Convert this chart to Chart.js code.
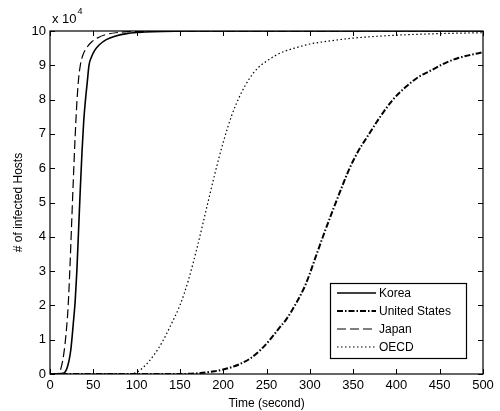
<!DOCTYPE html>
<html><head><meta charset="utf-8">
<script src="https://cdn.jsdelivr.net/npm/chart.js@4/dist/chart.umd.min.js"></script>
<style>html,body{margin:0;padding:0;background:#fff}#wrap{width:500px;height:411px}</style>
</head><body><div id="wrap"><canvas id="c" width="500" height="411"></canvas></div>
<script>
const seriesNames = ["Korea", "United States", "Japan", "OECD"];
const xTicks = [0, 50, 100, 150, 200, 250, 300, 350, 400, 450, 500];
const yTicks = [0, 1, 2, 3, 4, 5, 6, 7, 8, 9, 10];
// values in units of 10^4 hosts
const koreaT = [0, 15, 20, 24, 27, 29, 31, 33, 35, 37, 39, 41, 43, 45, 48, 52, 57, 65, 75, 90, 110, 130, 160, 500];
const koreaV = [0, 0.02, 0.2, 0.7, 1.5, 2.1, 3.0, 4.2, 5.4, 6.5, 7.4, 8.0, 8.5, 9.0, 9.25, 9.45, 9.6, 9.75, 9.85, 9.93, 9.97, 9.99, 10, 10];
const usT = [0, 150, 170, 190, 200, 210, 220, 231, 243, 254, 265, 273, 285, 295, 308, 318, 327, 337, 346, 356, 366, 380, 396, 410, 425, 440, 455, 470, 485, 500];
const usV = [0, 0, 0.02, 0.08, 0.13, 0.2, 0.3, 0.45, 0.7, 1.0, 1.35, 1.6, 2.1, 2.6, 3.5, 4.2, 4.8, 5.45, 6.0, 6.5, 6.9, 7.45, 8.0, 8.35, 8.65, 8.85, 9.05, 9.2, 9.3, 9.38];
const japanT = [0, 10, 13, 16, 19, 21, 23, 25, 27, 29, 31, 33, 35, 38, 42, 48, 55, 65, 80, 100, 500];
const japanV = [0, 0.02, 0.2, 0.6, 1.3, 2.0, 3.1, 4.4, 5.7, 6.9, 7.9, 8.6, 9.0, 9.3, 9.5, 9.68, 9.8, 9.9, 9.96, 9.99, 10];
const oecdT = [0, 90, 100, 110, 120, 130, 140, 150, 155, 160, 170, 180, 190, 200, 210, 220, 230, 240, 250, 260, 270, 285, 300, 320, 345, 380, 420, 460, 500];
const oecdV = [0, 0, 0.05, 0.25, 0.55, 0.95, 1.45, 2.0, 2.35, 2.75, 3.7, 4.75, 5.8, 6.75, 7.55, 8.15, 8.6, 8.92, 9.12, 9.28, 9.4, 9.52, 9.62, 9.7, 9.78, 9.85, 9.9, 9.93, 9.95];

function pts(t, v) { return t.map((x, i) => ({ x: x, y: v[i] })); }
const FONT = "'Liberation Sans', Arial, sans-serif";

const styles = [
  { borderWidth: 1.6, borderDash: [] },
  { borderWidth: 2, borderDash: [6, 2, 1.5, 2] },
  { borderWidth: 1.2, borderDash: [9, 4] },
  { borderWidth: 1.2, borderDash: [1.5, 2.5] }
];
const dataSets = [pts(koreaT, koreaV), pts(usT, usV), pts(japanT, japanV), pts(oecdT, oecdV)];

const boxPlugin = {
  id: 'boxPlugin',
  afterDraw(chart) {
    const ctx = chart.ctx, a = chart.chartArea;
    const xs = chart.scales.x, ys = chart.scales.y;
    ctx.save();
    ctx.strokeStyle = '#000';
    ctx.lineWidth = 1.2;
    ctx.setLineDash([]);
    ctx.strokeRect(a.left, a.top, a.right - a.left, a.bottom - a.top);
    ctx.lineWidth = 1;
    const L = 5;
    xTicks.forEach(v => {
      const px = Math.round(xs.getPixelForValue(v)) + 0.5;
      ctx.beginPath();
      ctx.moveTo(px, a.bottom); ctx.lineTo(px, a.bottom - L);
      ctx.moveTo(px, a.top); ctx.lineTo(px, a.top + L);
      ctx.stroke();
    });
    yTicks.forEach(v => {
      const py = Math.round(ys.getPixelForValue(v)) + 0.5;
      ctx.beginPath();
      ctx.moveTo(a.left, py); ctx.lineTo(a.left + L, py);
      ctx.moveTo(a.right, py); ctx.lineTo(a.right - L, py);
      ctx.stroke();
    });
    // exponent label
    ctx.fillStyle = '#000';
    ctx.font = '13px ' + FONT;
    ctx.textBaseline = 'alphabetic';
    ctx.textAlign = 'left';
    ctx.fillText('x 10', a.left + 2, a.top - 8);
    const w = ctx.measureText('x 10').width;
    ctx.font = '9px ' + FONT;
    ctx.fillText('4', a.left + 2 + w + 1, a.top - 17);
    // legend
    const lx = 330, ly = 283, lw = 136, lh = 75;
    ctx.fillStyle = '#fff';
    ctx.fillRect(lx, ly, lw, lh);
    ctx.strokeStyle = '#000';
    ctx.lineWidth = 1.2;
    ctx.strokeRect(lx + 0.5, ly + 0.5, lw, lh);
    ctx.font = '12px ' + FONT;
    ctx.textBaseline = 'middle';
    chart.data.datasets.forEach((ds, i) => {
      const yy = ly + 10 + i * 18;
      ctx.beginPath();
      ctx.strokeStyle = '#000';
      ctx.lineWidth = ds.borderWidth;
      ctx.setLineDash(ds.borderDash || []);
      ctx.moveTo(lx + 7, yy); ctx.lineTo(lx + 46, yy);
      ctx.stroke();
      ctx.setLineDash([]);
      ctx.fillStyle = '#000';
      ctx.fillText(ds.label, lx + 49, yy + 1);
    });
    ctx.restore();
  }
};

new Chart(document.getElementById('c'), {
  type: 'line',
  data: {
    datasets: dataSets.map((d, i) => ({
      label: seriesNames[i],
      data: d,
      borderColor: '#000',
      backgroundColor: '#000',
      borderWidth: styles[i].borderWidth,
      borderDash: styles[i].borderDash,
      pointRadius: 0,
      fill: false,
      cubicInterpolationMode: 'monotone'
    }))
  },
  options: {
    responsive: false,
    animation: false,
    devicePixelRatio: 1,
    layout: { padding: { top: 31, right: 17, left: 11, bottom: 0 } },
    plugins: { legend: { display: false }, tooltip: { enabled: false } },
    scales: {
      x: {
        type: 'linear', min: 0, max: 500,
        afterBuildTicks(s) { s.ticks = xTicks.map(v => ({ value: v })); },
        afterFit(s) { s.height = 37; },
        grid: { display: false, drawTicks: false },
        border: { display: false },
        ticks: { color: '#000', font: { family: FONT, size: 13 }, padding: 4, maxRotation: 0 },
        title: { display: true, text: 'Time (second)', color: '#000', font: { family: FONT, size: 12 }, padding: { top: 1, bottom: 0 } }
      },
      y: {
        type: 'linear', min: 0, max: 10,
        afterBuildTicks(s) { s.ticks = yTicks.map(v => ({ value: v })); },
        afterFit(s) { s.width = 39; },
        grid: { display: false, drawTicks: false },
        border: { display: false },
        ticks: { color: '#000', font: { family: FONT, size: 13 }, padding: 4 },
        title: { display: true, text: '# of infected Hosts', color: '#000', font: { family: FONT, size: 12 }, padding: { top: 0, bottom: 4 } }
      }
    }
  },
  plugins: [boxPlugin]
});
</script>
</body></html>
